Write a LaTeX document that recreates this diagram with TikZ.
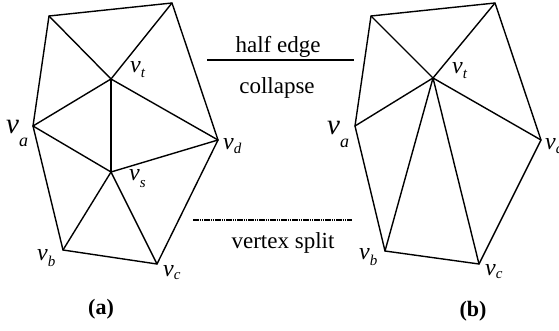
\documentclass[tikz,border=0pt]{standalone}
\usepackage{fontspec}
\setmainfont{Liberation Serif}
\newcommand{\vlab}[4]{{\fontsize{#1}{#1}\selectfont\itshape v}\raisebox{-#4pt}{\fontsize{#2}{#2}\selectfont\itshape #3}}
\begin{document}
\begin{tikzpicture}[x=1pt,y=-1pt,
  edge/.style={line width=1.4pt,line join=round,line cap=round},
  lab/.style={inner sep=0pt,anchor=base west},
  captext/.style={inner sep=0pt,font=\fontsize{23}{23}\selectfont},
  subcap/.style={inner sep=0pt,font=\fontsize{22}{22}\selectfont\bfseries}]
\useasboundingbox (0,0) rectangle (559,331);
% left figure
\coordinate (ltl) at (49,16);
\coordinate (ltr) at (172,3);
\coordinate (lt) at (111,79);
\coordinate (la) at (33,126);
\coordinate (ls) at (111,172);
\coordinate (ld) at (218,140);
\coordinate (lb) at (63,250);
\coordinate (lc) at (157,264);
\draw[edge] (ltl) -- (ltr) -- (ld) -- (lc) -- (lb) -- (la) -- cycle;
\draw[edge] (ltl) -- (lt) -- (ltr);
\draw[edge] (la) -- (lt) -- (ld);
\draw[edge] (lt) -- (ls);
\draw[edge] (la) -- (ls) -- (ld);
\draw[edge] (lb) -- (ls) -- (lc);
% right figure
\coordinate (rtl) at (371,16);
\coordinate (rtr) at (495,3);
\coordinate (rt) at (433,78);
\coordinate (ra) at (355,126);
\coordinate (rd) at (541,140);
\coordinate (rb) at (385,251);
\coordinate (rc) at (479,264);
\draw[edge] (rtl) -- (rtr) -- (rd) -- (rc) -- (rb) -- (ra) -- cycle;
\draw[edge] (rtl) -- (rt) -- (rtr);
\draw[edge] (ra) -- (rt) -- (rd);
\draw[edge] (rb) -- (rt) -- (rc);
% labels left
\node[lab] (Lt) at (130,73) {\vlab{24}{15}{t}{5}};
\node[lab] (Ls) at (129,181) {\vlab{24}{15}{s}{6}};
\node[lab] (La) at (6,134) {\vlab{29}{18}{a}{13}};
\node[lab] (Ld) at (223,150) {\vlab{24}{15}{d}{4}};
\node[lab] (Lb) at (37,260) {\vlab{24}{15}{b}{6}};
\node[lab] (Lc) at (163,276) {\vlab{24}{15}{c}{3}};
% labels right
\node[lab] (Rt) at (452,74) {\vlab{24}{15}{t}{5}};
\node[lab] (Ra) at (327,135) {\vlab{29}{18}{a}{13}};
\node[lab] (Rd) at (545,150) {\vlab{24}{15}{d}{4}};
\node[lab] (Rb) at (359,259) {\vlab{24}{15}{b}{6}};
\node[lab] (Rc) at (485,275) {\vlab{24}{15}{c}{3}};
% middle
\coordinate (s1) at (207,60);
\coordinate (s2) at (354,60);
\draw[line width=1.3pt] (s1) -- (s2);
\node[captext] (he) at (278,47) {half edge};
\node[captext] (co) at (277,88) {collapse};
\coordinate (d1) at (193,220);
\coordinate (d2) at (352,220);
\draw[line width=1.1pt,dash pattern=on 1.6pt off 0.6pt] (d1) -- (d2);
\node[captext] (vs) at (283,243) {vertex split};
\node[subcap] (A) at (101,309) {(a)};
\node[subcap] (B) at (473,311) {(b)};
\end{tikzpicture}
\end{document}
